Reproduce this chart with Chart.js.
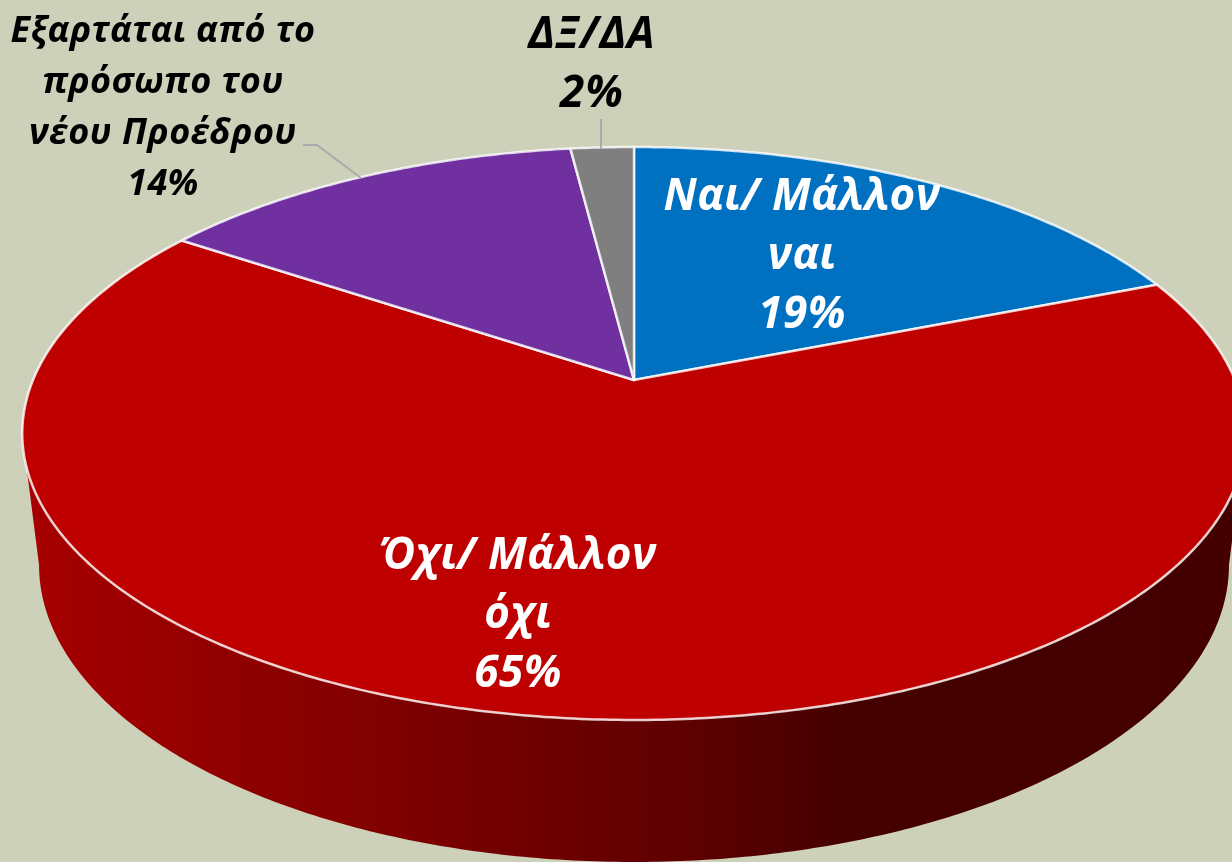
<!DOCTYPE html>
<html lang="el">
<head>
<meta charset="utf-8">
<title>Pie</title>
<script src="https://cdn.jsdelivr.net/npm/chart.js@4/dist/chart.umd.min.js"></script>
<style>
html, body { margin: 0; padding: 0; background: #cdd1ba; overflow: hidden; }
canvas { display: block; }
</style>
</head>
<body>
<canvas id="pieChart" width="1232" height="862"></canvas>
<script>
// DATA

const categories = ['Ναι/ Μάλλον ναι', 'Όχι/ Μάλλον όχι', 'Εξαρτάται από το πρόσωπο του νέου Προέδρου', 'ΔΞ/ΔΑ'];
const labelLines = [['Ναι/ Μάλλον', 'ναι'], ['Όχι/ Μάλλον', 'όχι'], ['Εξαρτάται από το', 'πρόσωπο του', 'νέου Προέδρου'], ['ΔΞ/ΔΑ']];
const shares = [19, 65.4, 13.6, 2];
const sliceColors = ['#0070c0', '#be0000', '#7030a0', '#7f7f7f'];

// LOOK

const labelStyle = [
    { x: 802, y: 210, gap: 59, size: 44, spacing: 0.5, color: '#fff' },
    { x: 518, y: 569, gap: 59, size: 44, spacing: 0.5, color: '#fff' },
    { x: 163, y: 42, gap: 51, size: 36, spacing: 0.4, color: '#000' },
    { x: 592, y: 48, gap: 59, size: 44, spacing: 1, color: '#000' }
];
const leaders = [
    [[303, 145], [317, 145], [361, 178]],
    [[601, 119], [601, 149]]
];

// the disc seen in perspective: near edge is lower and bigger
const tilt = 0.1867;
const topFace = { x: 634, y: 380, a: 276.5, b: 601 };
const baseFace = { x: 634, y: 509.6, a: 286.6, b: 584.5 };

function rim(face, angle) {
    const den = 1 + tilt * Math.cos(angle);
    return [face.x + face.b * Math.sin(angle) / den, face.y - face.a * Math.cos(angle) / den];
}

function traceRim(ctx, face, from, to) {
    const steps = Math.max(2, Math.ceil(Math.abs(to - from) / 0.01));
    for (let i = 0; i <= steps; i++) {
        const p = rim(face, from + (to - from) * i / steps);
        ctx.lineTo(p[0], p[1]);
    }
}

const tiltedPie = {
    id: 'tiltedPie',
    beforeDatasetDraw(chart, args) {
        const ctx = chart.ctx;
        const arcs = chart.getDatasetMeta(args.index).data;
        const side = Math.acos(-tilt);

        // side wall
        const wall = ctx.createLinearGradient(22, 0, 1232, 0);
        wall.addColorStop(0, '#a80000');
        wall.addColorStop(0.17, '#900000');
        wall.addColorStop(0.33, '#7c0000');
        wall.addColorStop(0.55, '#5e0000');
        wall.addColorStop(0.68, '#450000');
        wall.addColorStop(1, '#440000');
        ctx.save();
        ctx.beginPath();
        traceRim(ctx, topFace, side, 2 * Math.PI - side);
        traceRim(ctx, baseFace, 2 * Math.PI - side, side);
        ctx.closePath();
        ctx.fillStyle = wall;
        ctx.fill();

        // slices, using the angles the pie controller worked out
        arcs.forEach((arc, i) => {
            const from = arc.startAngle + Math.PI / 2;
            const to = arc.endAngle + Math.PI / 2;
            ctx.beginPath();
            ctx.moveTo(topFace.x, topFace.y);
            traceRim(ctx, topFace, from, to);
            ctx.closePath();
            ctx.fillStyle = sliceColors[i];
            ctx.fill();
            ctx.strokeStyle = 'rgba(255,255,255,0.8)';
            ctx.lineWidth = 2.5;
            ctx.lineJoin = 'round';
            ctx.stroke();
        });
        ctx.restore();
        return false;
    },
    afterDatasetsDraw(chart) {
        const ctx = chart.ctx;
        ctx.save();

        ctx.strokeStyle = '#a9abaa';
        ctx.lineWidth = 2;
        leaders.forEach(points => {
            ctx.beginPath();
            points.forEach(p => ctx.lineTo(p[0], p[1]));
            ctx.stroke();
        });

        ctx.textAlign = 'center';
        ctx.textBaseline = 'alphabetic';
        labelLines.forEach((lines, i) => {
            const s = labelStyle[i];
            ctx.font = 'italic bold ' + s.size + 'px "Open Sans"';
            ctx.letterSpacing = s.spacing + 'px';
            ctx.fillStyle = s.color;
            lines.concat(Math.round(shares[i]) + '%').forEach((line, n) => {
                ctx.fillText(line, s.x, s.y + n * s.gap);
            });
        });
        ctx.restore();
    }
};

new Chart(document.getElementById('pieChart'), {
    type: 'pie',
    data: {
        labels: categories,
        datasets: [{
            data: shares,
            backgroundColor: sliceColors
        }]
    },
    options: {
        responsive: false,
        animation: false,
        plugins: {
            legend: { display: false },
            tooltip: { enabled: false }
        }
    },
    plugins: [tiltedPie]
});
</script>
</body>
</html>
